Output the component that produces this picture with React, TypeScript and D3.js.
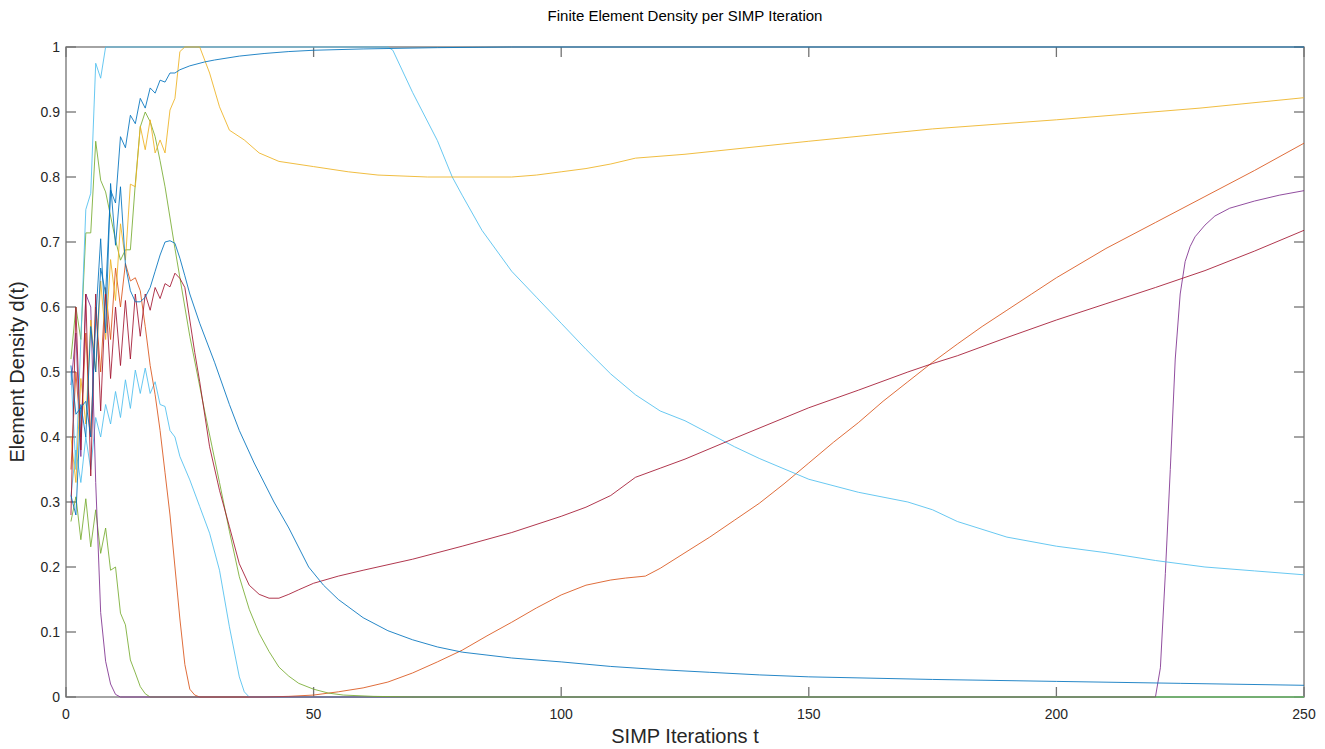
import React from "react";
import * as d3 from "d3";

type Pt = [number, number];

// axis ticks
const xTicks = [0, 50, 100, 150, 200, 250];
const yTicks = [0, 0.1, 0.2, 0.3, 0.4, 0.5, 0.6, 0.7, 0.8, 0.9, 1];

// [iteration, density]
const greenLow: Pt[] = [
  [1, 0.27], [2, 0.308], [3, 0.242], [4, 0.305], [5, 0.231], [6, 0.288], [7, 0.221], [8, 0.26],
  [9, 0.195], [10, 0.2], [11, 0.129], [12, 0.111], [13, 0.057], [14, 0.037], [15, 0.016],
  [16, 0.005], [17, 0], [250, 0],
];

const cyanLow: Pt[] = [
  [1, 0.31], [2, 0.38], [3, 0.33], [4, 0.4], [5, 0.35], [6, 0.43], [7, 0.4], [8, 0.45], [9, 0.42],
  [10, 0.47], [11, 0.43], [12, 0.488], [13, 0.444], [14, 0.503], [15, 0.467], [16, 0.506],
  [17, 0.467], [18, 0.485], [19, 0.45], [20, 0.447], [21, 0.41], [22, 0.4], [23, 0.37],
  [25, 0.334], [27, 0.293], [29, 0.252], [31, 0.195], [33, 0.108], [35, 0.031], [36, 0.008],
  [37, 0], [250, 0],
];

const blueTop: Pt[] = [
  [1, 0.31], [2, 0.28], [3, 0.45], [4, 0.4], [5, 0.57], [6, 0.5], [7, 0.66], [8, 0.62], [9, 0.78],
  [10, 0.76], [11, 0.862], [12, 0.845], [13, 0.895], [14, 0.882], [15, 0.921], [16, 0.906],
  [17, 0.937], [18, 0.929], [19, 0.949], [20, 0.946], [21, 0.96], [22, 0.96], [23, 0.965],
  [25, 0.971], [28, 0.977], [30, 0.98], [35, 0.986], [40, 0.99], [45, 0.993], [50, 0.995],
  [60, 0.997], [75, 0.999], [90, 1], [250, 1],
];

const orange: Pt[] = [
  [1, 0.35], [2, 0.5], [3, 0.4], [4, 0.56], [5, 0.4], [6, 0.6], [7, 0.5], [8, 0.63], [9, 0.55],
  [10, 0.66], [11, 0.6], [12, 0.667], [13, 0.64], [14, 0.645], [15, 0.625], [16, 0.57],
  [17, 0.51], [18, 0.465], [19, 0.41], [20, 0.345], [21, 0.28], [22, 0.2], [23, 0.12],
  [24, 0.05], [25, 0.012], [26, 0.003], [27, 0], [40, 0], [45, 0.001], [50, 0.003], [55, 0.008],
  [60, 0.014], [65, 0.023], [70, 0.037], [75, 0.054], [80, 0.072], [85, 0.094], [90, 0.115],
  [95, 0.137], [100, 0.157], [105, 0.172], [110, 0.18], [113, 0.183], [117, 0.186], [120, 0.198],
  [125, 0.222], [130, 0.246], [135, 0.272], [140, 0.298], [145, 0.328], [150, 0.36], [155, 0.392],
  [160, 0.422], [165, 0.455], [170, 0.485], [175, 0.515], [180, 0.543], [185, 0.57], [190, 0.595],
  [195, 0.62], [200, 0.645], [210, 0.69], [220, 0.73], [230, 0.77], [240, 0.81], [250, 0.852],
];

const yellow: Pt[] = [
  [1, 0.4], [2, 0.33], [3, 0.49], [4, 0.42], [5, 0.58], [6, 0.5], [7, 0.64], [8, 0.55], [9, 0.673],
  [10, 0.61], [11, 0.728], [12, 0.672], [13, 0.789], [14, 0.785], [15, 0.878], [16, 0.842],
  [17, 0.888], [18, 0.837], [19, 0.857], [20, 0.837], [21, 0.903], [22, 0.921], [23, 0.993],
  [24, 1], [27, 1], [29, 0.96], [31, 0.908], [33, 0.872], [36, 0.857], [39, 0.837], [43, 0.824],
  [50, 0.816], [57, 0.808], [63, 0.803], [73, 0.8], [84, 0.8], [90, 0.8], [95, 0.803],
  [100, 0.808], [105, 0.813], [110, 0.82], [115, 0.829], [125, 0.835], [150, 0.855],
  [175, 0.874], [200, 0.888], [229, 0.906], [250, 0.922],
];

const purple: Pt[] = [
  [1, 0.48], [2, 0.56], [3, 0.37], [4, 0.62], [5, 0.6], [6, 0.33], [7, 0.13], [8, 0.055],
  [9, 0.02], [10, 0.004], [11, 0], [220, 0], [221, 0.045], [222, 0.19], [223, 0.35], [224, 0.52],
  [225, 0.62], [226, 0.67], [227, 0.693], [228, 0.708], [230, 0.726], [232, 0.74], [235, 0.752],
  [240, 0.763], [245, 0.772], [250, 0.779],
];

const greenHigh: Pt[] = [
  [1, 0.52], [2, 0.6], [3, 0.55], [4, 0.714], [5, 0.714], [6, 0.855], [7, 0.795], [8, 0.777],
  [9, 0.74], [10, 0.703], [11, 0.672], [12, 0.688], [13, 0.688], [14, 0.79], [15, 0.877],
  [16, 0.9], [17, 0.885], [18, 0.862], [19, 0.825], [20, 0.785], [22, 0.69], [25, 0.555],
  [28, 0.44], [31, 0.33], [33, 0.255], [35, 0.185], [37, 0.135], [39, 0.098], [41, 0.07],
  [43, 0.046], [45, 0.032], [47, 0.021], [50, 0.012], [53, 0.006], [56, 0.003], [62, 0.001],
  [70, 0], [250, 0],
];

const cyanTop: Pt[] = [
  [1, 0.5], [2, 0.35], [3, 0.55], [4, 0.75], [5, 0.775], [6, 0.975], [7, 0.952], [8, 1], [65, 1],
  [66, 0.995], [70, 0.93], [75, 0.856], [78, 0.8], [80, 0.772], [84, 0.718], [90, 0.655],
  [95, 0.615], [100, 0.575], [105, 0.535], [110, 0.497], [115, 0.465], [120, 0.44], [125, 0.425],
  [130, 0.405], [135, 0.385], [140, 0.367], [150, 0.335], [160, 0.315], [170, 0.3], [175, 0.288],
  [180, 0.27], [190, 0.246], [200, 0.232], [210, 0.222], [220, 0.21], [230, 0.2], [240, 0.194],
  [250, 0.188],
];

const red: Pt[] = [
  [1, 0.28], [2, 0.6], [3, 0.38], [4, 0.62], [5, 0.34], [6, 0.62], [7, 0.44], [8, 0.62], [9, 0.49],
  [10, 0.6], [11, 0.51], [12, 0.61], [13, 0.52], [14, 0.62], [15, 0.555], [16, 0.62], [17, 0.595],
  [18, 0.63], [19, 0.613], [20, 0.636], [21, 0.631], [22, 0.652], [23, 0.644], [24, 0.63],
  [25, 0.58], [26, 0.53], [27, 0.485], [29, 0.385], [31, 0.318], [33, 0.262], [35, 0.205],
  [37, 0.172], [39, 0.158], [41, 0.152], [43, 0.152], [45, 0.158], [47, 0.165], [50, 0.175],
  [55, 0.186], [60, 0.195], [70, 0.212], [80, 0.232], [90, 0.253], [100, 0.278], [105, 0.292],
  [110, 0.31], [115, 0.338], [120, 0.352], [125, 0.366], [135, 0.398], [150, 0.445], [160, 0.472],
  [170, 0.5], [175, 0.513], [180, 0.525], [190, 0.553], [200, 0.58], [210, 0.605], [220, 0.63],
  [230, 0.656], [240, 0.686], [250, 0.718],
];

const blueDecay: Pt[] = [
  [1, 0.51], [2, 0.435], [3, 0.445], [4, 0.455], [5, 0.4], [6, 0.58], [7, 0.705], [8, 0.56],
  [9, 0.79], [10, 0.695], [11, 0.785], [12, 0.665], [13, 0.625], [14, 0.608], [15, 0.608],
  [16, 0.615], [17, 0.63], [18, 0.655], [19, 0.68], [20, 0.7], [21, 0.702], [22, 0.698],
  [23, 0.675], [24, 0.648], [25, 0.62], [27, 0.575], [30, 0.515], [33, 0.45], [35, 0.41],
  [38, 0.36], [42, 0.3], [45, 0.26], [49, 0.2], [52, 0.172], [55, 0.15], [60, 0.122],
  [65, 0.102], [70, 0.088], [75, 0.077], [80, 0.069], [90, 0.06], [100, 0.054], [110, 0.047],
  [120, 0.042], [130, 0.038], [140, 0.034], [150, 0.031], [175, 0.027], [200, 0.024],
  [225, 0.021], [250, 0.018],
];

// drawing order, bottom first
const series = [
  { data: greenLow, color: "#77AC30" },
  { data: cyanLow, color: "#4DBEEE" },
  { data: orange, color: "#D95319" },
  { data: purple, color: "#7E2F8E" },
  { data: greenHigh, color: "#77AC30" },
  { data: cyanTop, color: "#4DBEEE" },
  { data: yellow, color: "#EDB120" },
  { data: red, color: "#A2142F" },
  { data: blueDecay, color: "#0072BD" },
  { data: blueTop, color: "#0072BD" },
];

export default function App() {
  const W = 1325, H = 749;
  const left = 66, right = 1304, top = 47, bottom = 697;
  const tick = 10;
  const axisColor = "#737373";
  const textColor = "#262626";

  const x = d3.scaleLinear().domain([0, 250]).range([left, right]);
  const y = d3.scaleLinear().domain([0, 1]).range([bottom, top]);
  const line = d3.line<Pt>().x(d => x(d[0])).y(d => y(d[1]));

  return (
    <svg width={W} height={H} style={{ position: "absolute", left: 0, top: 0, background: "#fff" }}
      fontFamily="'Liberation Sans', Arial, Helvetica, sans-serif">
      <rect x={0} y={0} width={W} height={H} fill="#fff" />

      {/* box + inward ticks */}
      <g stroke={axisColor} strokeWidth={1.3} fill="none">
        <rect x={left} y={top} width={right - left} height={bottom - top} />
        {xTicks.map(t => (
          <g key={"xt" + t}>
            <line x1={x(t)} x2={x(t)} y1={bottom} y2={bottom - tick} />
            <line x1={x(t)} x2={x(t)} y1={top} y2={top + tick} />
          </g>
        ))}
        {yTicks.map(t => (
          <g key={"yt" + t}>
            <line x1={left} x2={left + tick} y1={y(t)} y2={y(t)} />
            <line x1={right} x2={right - tick} y1={y(t)} y2={y(t)} />
          </g>
        ))}
      </g>

      <g fill="none" strokeWidth={1} strokeOpacity={0.85} strokeLinejoin="round">
        {series.map((s, i) => (
          <path key={i} d={line(s.data) || ""} stroke={s.color} />
        ))}
      </g>

      <g fill={textColor} fontSize={14}>
        {xTicks.map(t => (
          <text key={"xl" + t} x={x(t)} y={bottom + 22} textAnchor="middle">{t}</text>
        ))}
        {yTicks.map(t => (
          <text key={"yl" + t} x={left - 6} y={y(t) + 5} textAnchor="end">{String(+t.toFixed(1))}</text>
        ))}
      </g>

      <text x={(left + right) / 2} y={21} textAnchor="middle" fontSize={15} fill="#000">
        Finite Element Density per SIMP Iteration
      </text>
      <text x={(left + right) / 2} y={743} textAnchor="middle" fontSize={20} fill={textColor}>
        SIMP Iterations t
      </text>
      <text transform={`translate(24,${(top + bottom) / 2}) rotate(-90)`} textAnchor="middle"
        fontSize={20} fill={textColor}>
        Element Density d(t)
      </text>
    </svg>
  );
}
